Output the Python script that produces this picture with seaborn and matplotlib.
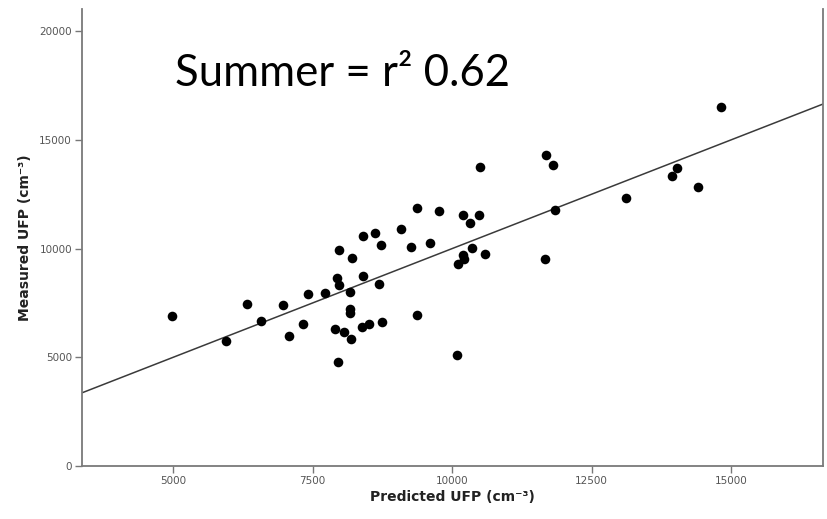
import matplotlib
matplotlib.use("Agg")
import matplotlib.pyplot as plt
import seaborn as sns
import pandas as pd

# values
predicted = [4977, 5950, 6321, 6566, 6966, 7068, 7324, 7408, 7718, 7928,
             7969, 7892, 7946, 8059, 8172, 8166, 8172, 8190, 8394, 8387,
             8501, 8686, 8740, 9362, 7964, 8197, 8394, 8609, 8717, 9075,
             9373, 9260, 9595, 9767, 10191, 10484, 10322, 10358, 10586, 10191,
             10204, 10107, 10502, 11684, 11804, 11840, 11666, 10084, 14820, 13107,
             14032, 13931, 14403]
measured = [6900, 5736, 7438, 6670, 7406, 5994, 6532, 7898, 7944, 8634,
            8312, 6302, 4770, 6178, 8018, 7222, 7038, 5842, 8754, 6380,
            6518, 8372, 6610, 6946, 9922, 9582, 10594, 10704, 10166, 10902,
            11882, 10074, 10272, 11730, 11560, 11560, 11192, 10028, 9766, 9706,
            9508, 9292, 13768, 14292, 13860, 11776, 9536, 5106, 16514, 12328,
            13708, 13340, 12820]
fit_intercept = 0.0
fit_slope = 1.0
x_ticks = [5000, 7500, 10000, 12500, 15000]
y_ticks = [0, 5000, 10000, 15000, 20000]
annotation = "Summer = r² 0.62"

df = pd.DataFrame({"predicted": predicted, "measured": measured})

sns.set_theme(style="white")
plt.rcParams["font.family"] = ["DejaVu Sans"]

fig = plt.figure(figsize=(8.27, 5.19), dpi=100)
ax = fig.add_axes([0.0988, 0.1021, 0.8967, 0.8799])

sns.scatterplot(data=df, x="predicted", y="measured", ax=ax, color="black",
                s=48, edgecolor="black", linewidth=0, zorder=3)
ax.axline((0, fit_intercept), slope=fit_slope, color="#3a3a3a", lw=1.1, zorder=2)

ax.set_xlim(3360, 16650)
ax.set_ylim(0, 21000)
ax.set_xticks(x_ticks)
ax.set_yticks(y_ticks)
ax.tick_params(axis="both", direction="out", length=5, width=1, color="#777777",
               labelcolor="#555555", labelsize=7.5, pad=2, bottom=True, left=True)

for side in ["left", "bottom", "right"]:
    ax.spines[side].set_color("#7a7a7a")
    ax.spines[side].set_linewidth(1.3)
ax.spines["top"].set_visible(False)

ax.set_xlabel("Predicted UFP (cm⁻³)", fontsize=10, fontweight="bold", color="#222222", labelpad=3)
ax.set_ylabel("Measured UFP (cm⁻³)", fontsize=10, fontweight="bold", color="#222222", labelpad=5)

ax.text(0.1258, 0.832, annotation, transform=ax.transAxes, fontsize=31.5,
        family=["Lato", "DejaVu Sans"], color="black", ha="left", va="baseline")

fig.savefig("out.png", dpi=100)
